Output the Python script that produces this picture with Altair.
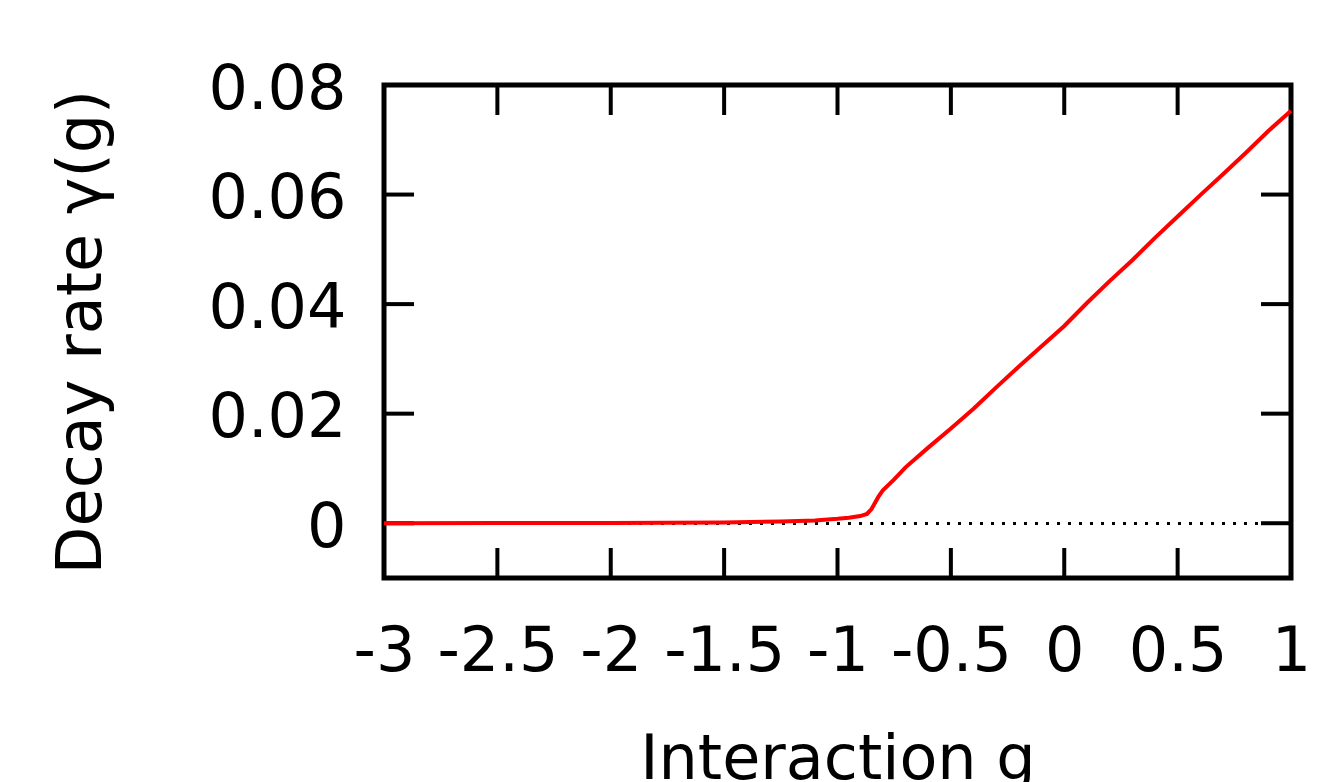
import altair as alt
import pandas as pd

# Curve data
g_vals = [-3.0, -2.5, -2.0, -1.5, -1.25, -1.1, -1.0, -0.95, -0.9, -0.87, -0.85,
          -0.835, -0.82, -0.8, -0.75, -0.7, -0.6, -0.5, -0.4, -0.3, -0.2, -0.1,
          0.0, 0.1, 0.2, 0.3, 0.4, 0.5, 0.6, 0.7, 0.8, 0.9, 1.0]
gamma_vals = [0.0, 0.00002, 0.00006, 0.00015, 0.0003, 0.0005, 0.0008, 0.0010,
              0.0013, 0.0017, 0.0026, 0.0037, 0.0048, 0.0060, 0.0080, 0.0102,
              0.0138, 0.0173, 0.0209, 0.0248, 0.0286, 0.0323, 0.0360, 0.0402,
              0.0442, 0.0480, 0.0521, 0.0560, 0.0599, 0.0637, 0.0676, 0.0716,
              0.0753]

x_ticks = [-3, -2.5, -2, -1.5, -1, -0.5, 0, 0.5, 1]
y_ticks = [0, 0.02, 0.04, 0.06, 0.08]

x_domain = [-3, 1]
y_domain = [-0.01, 0.08]

W, H = 907, 493
TICK = 30
FONT = "DejaVu Sans"
FS = 62

curve = pd.DataFrame({"g": g_vals, "gamma": gamma_vals})
xt = pd.DataFrame({"g": x_ticks})
yt = pd.DataFrame({"gamma": y_ticks})

xs = alt.Scale(domain=x_domain, nice=False, zero=False)
ys = alt.Scale(domain=y_domain, nice=False, zero=False)

x_axis = alt.Axis(values=x_ticks, labelExpr="toString(datum.value)", ticks=False,
                  tickSize=0, domain=False, grid=False, labelPadding=43,
                  labelFont=FONT, labelFontSize=FS, labelColor="black",
                  labelOverlap=False, labelFlush=False,
                  title="Interaction g", titleFont=FONT, titleFontSize=FS,
                  titleFontWeight="normal", titleColor="black",
                  titleBaseline="top", titleY=151)
y_axis = alt.Axis(values=y_ticks, labelExpr="toString(datum.value)", ticks=False,
                  tickSize=0, domain=False, grid=False, labelPadding=38,
                  labelFont=FONT, labelFontSize=FS, labelColor="black",
                  labelOverlap=False, labelFlush=False, labelBaseline="middle",
                  labelOffset=4,
                  title="Decay rate γ(g)", titleFont=FONT, titleFontSize=FS,
                  titleFontWeight="normal", titleColor="black",
                  titleAngle=270, titleBaseline="alphabetic", titleX=-284,
                  titleY=H / 2)

zero_line = alt.Chart(curve).mark_rule(color="black", strokeWidth=2,
                                       strokeDash=[3, 8]).encode(
    y=alt.Y(datum=0, scale=ys, axis=y_axis)
)

line = alt.Chart(curve).mark_line(color="#ff0000", strokeWidth=4).encode(
    x=alt.X("g:Q", scale=xs, axis=x_axis),
    y=alt.Y("gamma:Q", scale=ys, axis=y_axis),
)

tick_style = dict(color="black", strokeWidth=4)
bottom_ticks = alt.Chart(xt).mark_rule(**tick_style).encode(
    x=alt.X("g:Q", scale=xs, axis=x_axis),
    y=alt.value(H), y2=alt.value(H - TICK))
top_ticks = alt.Chart(xt).mark_rule(**tick_style).encode(
    x=alt.X("g:Q", scale=xs, axis=x_axis),
    y=alt.value(0), y2=alt.value(TICK))
left_ticks = alt.Chart(yt).mark_rule(**tick_style).encode(
    y=alt.Y("gamma:Q", scale=ys, axis=y_axis),
    x=alt.value(0), x2=alt.value(TICK))
right_ticks = alt.Chart(yt).mark_rule(**tick_style).encode(
    y=alt.Y("gamma:Q", scale=ys, axis=y_axis),
    x=alt.value(W), x2=alt.value(W - TICK))

chart = alt.layer(zero_line, bottom_ticks, top_ticks, left_ticks, right_ticks,
                  line).properties(
    width=W, height=H,
    autosize=alt.AutoSizeParams(type="none"),
    padding={"left": 376, "top": 77, "right": 30, "bottom": 230},
    background="white",
).configure_view(stroke="black", strokeWidth=5)

chart.save("out.html", embed_options={"renderer": "svg", "actions": False})
